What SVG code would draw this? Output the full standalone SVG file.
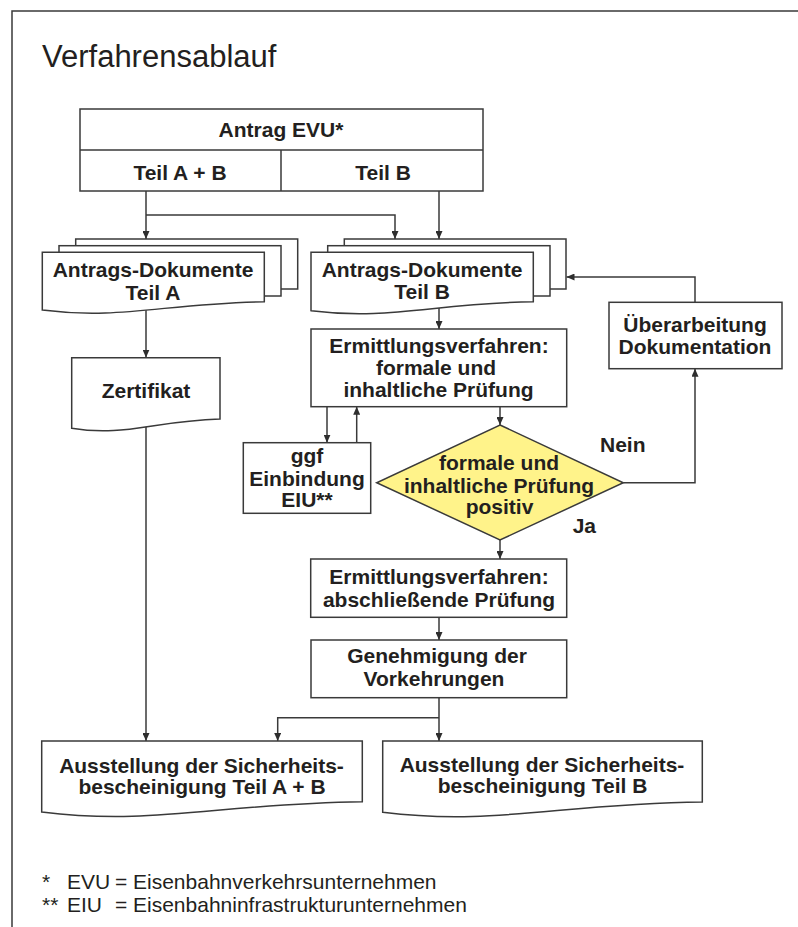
<svg xmlns="http://www.w3.org/2000/svg" width="798" height="927" viewBox="0 0 798 927">
<defs>
<marker id="arr" viewBox="0 0 8 7" refX="8" refY="3.5" markerWidth="8" markerHeight="7" markerUnits="userSpaceOnUse" orient="auto">
<path d="M0,0 L8,3.5 L0,7 Z" fill="#2e2e2e"/>
</marker>
<style>
.box{fill:#fff;stroke:#3a3a3a;stroke-width:1.5}
.dia{fill:#fff38a;stroke:#3a3a3a;stroke-width:1.5}
.ln{fill:none;stroke:#3a3a3a;stroke-width:1.5}
.t{font-family:"Liberation Sans",Arial,sans-serif;font-weight:bold;font-size:21px;fill:#231f20;text-anchor:middle}
.tl{font-family:"Liberation Sans",Arial,sans-serif;font-weight:bold;font-size:21px;fill:#231f20}
.title{font-family:"Liberation Sans",Arial,sans-serif;font-size:31px;fill:#231f20}
.fn{font-family:"Liberation Sans",Arial,sans-serif;font-size:21px;fill:#231f20}
</style>
</defs>
<rect x="0" y="0" width="798" height="927" fill="#fff"/>
<path class="ln" d="M12,927 V11 H798"/>
<text class="title" x="42" y="67">Verfahrensablauf</text>

<g id="connectors">
<path class="ln" d="M146,191 V239" marker-end="url(#arr)"/>
<path class="ln" d="M146,215 H395 V239" marker-end="url(#arr)"/>
<path class="ln" d="M439,191 V239" marker-end="url(#arr)"/>
<path class="ln" d="M146,305 V357.5" marker-end="url(#arr)"/>
<path class="ln" d="M146,425 V741" marker-end="url(#arr)"/>
<path class="ln" d="M439,305 V329" marker-end="url(#arr)"/>
<path class="ln" d="M327,406.7 V442.7" marker-end="url(#arr)"/>
<path class="ln" d="M356.7,442.7 V406.7" marker-end="url(#arr)"/>
<path class="ln" d="M500,406.7 V425" marker-end="url(#arr)"/>
<path class="ln" d="M623.3,482.7 H695 V368.7" marker-end="url(#arr)"/>
<path class="ln" d="M695,302.3 V277 H566.5" marker-end="url(#arr)"/>
<path class="ln" d="M500,540 V559" marker-end="url(#arr)"/>
<path class="ln" d="M439,617.3 V640" marker-end="url(#arr)"/>
<path class="ln" d="M439,697.7 V741" marker-end="url(#arr)"/>
<path class="ln" d="M439,717.7 H277.7 V741" marker-end="url(#arr)"/>
</g>

<g id="antrag">
<rect class="box" x="80" y="109" width="403" height="82"/>
<path class="ln" d="M80,150 H483 M281,150 V191"/>
<text class="t" x="281" y="137">Antrag EVU*</text>
<text class="t" x="180" y="180">Teil A + B</text>
<text class="t" x="383" y="180">Teil B</text>
</g>

<g id="docA">
<rect class="box" x="75.7" y="239" width="222" height="50"/>
<rect class="box" x="59" y="245.7" width="222" height="50.3"/>
<path class="box" d="M42.3,252.3 H264.3 V301.7 C164.3,303.5 120,320 42.3,310 Z"/>
<text class="t" x="153" y="277">Antrags-Dokumente</text>
<text class="t" x="153" y="300">Teil A</text>
</g>

<g id="docB">
<rect class="box" x="344.3" y="239" width="221.7" height="50"/>
<rect class="box" x="327.7" y="245.7" width="222.3" height="50.3"/>
<path class="box" d="M311,252.3 H533.3 V301.7 C433,303.5 389,320.5 311,310.7 Z"/>
<text class="t" x="422" y="277">Antrags-Dokumente</text>
<text class="t" x="422" y="299">Teil B</text>
</g>

<g id="zertifikat">
<path class="box" d="M71.7,357.7 H220 V419 C153,421 124,437 71.7,428.3 Z"/>
<text class="t" x="146" y="398">Zertifikat</text>
</g>

<g id="ueberarbeitung">
<rect class="box" x="609" y="302.3" width="173" height="66.4"/>
<text class="t" x="695" y="332">Überarbeitung</text>
<text class="t" x="695" y="354">Dokumentation</text>
</g>

<g id="ermittlung1">
<rect class="box" x="311" y="329" width="255.7" height="77.7"/>
<text class="t" x="439" y="353">Ermittlungsverfahren:</text>
<text class="t" x="436" y="375">formale und</text>
<text class="t" x="438.5" y="397">inhaltliche Prüfung</text>
</g>

<g id="ggf">
<rect class="box" x="243.3" y="442.7" width="127.4" height="70.6"/>
<text class="t" x="307" y="463">ggf</text>
<text class="t" x="307" y="485.7">Einbindung</text>
<text class="t" x="307" y="507">EIU**</text>
</g>

<g id="entscheidung">
<path class="dia" d="M500,425 L623.3,482.7 L500,540 L376.7,482.7 Z"/>
<text class="t" x="499" y="470">formale und</text>
<text class="t" x="499" y="492.7">inhaltliche Prüfung</text>
<text class="t" x="499.5" y="514">positiv</text>
<text class="tl" x="600" y="451.7">Nein</text>
<text class="tl" x="572.7" y="533">Ja</text>
</g>

<g id="ermittlung2">
<rect class="box" x="310.7" y="559" width="256" height="58.3"/>
<text class="t" x="439" y="584">Ermittlungsverfahren:</text>
<text class="t" x="439" y="606.7">abschließende Prüfung</text>
</g>

<g id="genehmigung">
<rect class="box" x="311" y="640" width="255.7" height="57.7"/>
<text class="t" x="437" y="663">Genehmigung der</text>
<text class="t" x="434" y="686">Vorkehrungen</text>
</g>

<g id="ausstellungAB">
<path class="box" d="M41.7,741 H362.3 V801.7 C218,803.5 154,826 41.7,812 Z"/>
<text class="t" x="201.5" y="773">Ausstellung der Sicherheits-</text>
<text class="t" x="202" y="794">bescheinigung Teil A + B</text>
</g>

<g id="ausstellungB">
<path class="box" d="M382.7,741 H702.3 V802 C558,803.8 494,826 382.7,812.3 Z"/>
<text class="t" x="542" y="772">Ausstellung der Sicherheits-</text>
<text class="t" x="542.5" y="793">bescheinigung Teil B</text>
</g>

<g id="fussnoten">
<text class="fn" x="42" y="889">*</text>
<text class="fn" x="67" y="889">EVU</text>
<text class="fn" x="115" y="889">=</text>
<text class="fn" x="133" y="889">Eisenbahnverkehrsunternehmen</text>
<text class="fn" x="42" y="911.5">**</text>
<text class="fn" x="67" y="911.5">EIU</text>
<text class="fn" x="115" y="911.5">=</text>
<text class="fn" x="133" y="911.5">Eisenbahninfrastrukturunternehmen</text>
</g>
</svg>
